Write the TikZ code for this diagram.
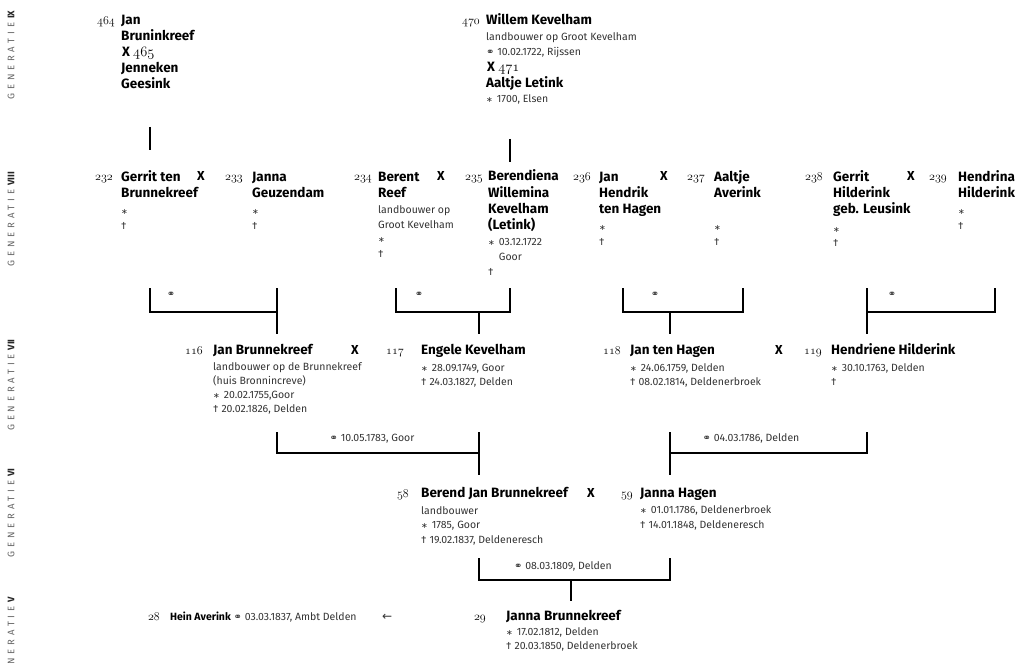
\documentclass[tikz,border=0pt]{standalone}
\usepackage{fontspec}
\setmainfont{Fira Sans}
\newfontfamily\symfont{DejaVu Sans}
\newfontfamily\genfont[LetterSpace=40]{Fira Sans}
\usetikzlibrary{positioning}
\newcommand\gnr[1]{{\fontencoding{OML}\fontfamily{cmm}\fontseries{m}\fontshape{it}\selectfont #1}}
\newcommand\born{{\symfont\fontsize{8}{8}\selectfont ∗}\hspace{4pt}}
\newcommand\died{†\hspace{3pt}}
\newcommand\wed{{\symfont\fontsize{10}{10}\selectfont ⚭}}
\begin{document}
\begin{tikzpicture}[x=1pt,y=-1pt,
    pname/.style={anchor=base west,inner sep=0,align=left,font=\fontsize{13.5}{16}\selectfont\bfseries},
    pinfo/.style={anchor=base west,inner sep=0,align=left,text=black!80,font=\fontsize{10.5}{14.5}\selectfont},
    genno/.style={anchor=base east,inner sep=0,font=\fontsize{13}{13}\selectfont},
    xmark/.style={anchor=base west,inner sep=0,font=\fontsize{13}{16}\selectfont\bfseries},
    genlabel/.style={rotate=90,inner sep=0,text=black!60,font=\genfont\fontsize{9.5}{10}\selectfont},
    famline/.style={line width=2pt}]
  \useasboundingbox (0,0) rectangle (1024,663);
  % generaties
  \foreach \gen/\py in {IX/55,VIII/219,VII/385,VI/513,V/640}{
    \node[genlabel] (g\gen) at (11,\py) {GENERATIE\hspace{4pt}{\normalfont\bfseries\color{black!85}\gen}};
  }
  % kwartiernummers
  \foreach \nr/\px/\py in {
      464/115/25,470/480/25,
      232/113/181,233/243/181,234/372/181,235/483/181,
      236/591/181,237/705/181,238/823/181,239/947/181,
      116/203/354,117/404/354,118/621/354,119/822/354,
      58/409/497,59/633/497,29/486/620,28/160/620}{
    \node[genno] (n\nr) at (\px,\py) {\gnr{\nr}};
  }
  \foreach \px/\py [count=\i] in {197/181,437/181,660/181,907/181,351/354,775/354,587/497}{
    \node[xmark] (x\i) at (\px,\py) {X};
  }
  % generatie IX (meerregelige nodes staan op de basislijn van de laatste regel)
  \node[pname] (p464) at (121,41) {Jan\\Bruninkreef};
  \node[pname] (x465) at (122,57) {X \gnr{465}};
  \node[pname] (p465) at (121,89) {Jenneken\\Geesink};
  \node[pname] (p470) at (486,25) {Willem Kevelham};
  \node[pinfo,font=\fontsize{10.5}{15.5}\selectfont] (d470) at (486,56)
    {landbouwer op Groot Kevelham\\\wed\ 10.02.1722, Rijssen};
  \node[pname] (x471) at (487,72) {X \gnr{471}};
  \node[pname] (p471) at (486,88) {Aaltje Letink};
  \node[pinfo] (d471) at (486,103) {\born 1700, Elsen};
  % generatie VIII
  \node[pname] (p232) at (121,197) {Gerrit ten\\Brunnekreef};
  \node[pinfo] (d232) at (121,229) {\born\\\died};
  \node[pname] (p233) at (252,197) {Janna\\Geuzendam};
  \node[pinfo] (d233) at (252,229) {\born\\\died};
  \node[pname] (p234) at (378,197) {Berent\\Reef};
  \node[pinfo] (d234) at (378,257) {landbouwer op\\Groot Kevelham\\\born\\\died};
  \node[pname] (p235) at (488,229) {Berendiena\\Willemina\\Kevelham\\(Letink)};
  \node[pinfo,font=\fontsize{10.5}{15}\selectfont] (d235) at (488,275.5)
    {\born 03.12.1722\\\phantom{\born}Goor\\\died};
  \node[pname] (p236) at (599,213) {Jan\\Hendrik\\ten Hagen};
  \node[pinfo] (d236) at (599,245) {\born\\\died};
  \node[pname] (p237) at (714,197) {Aaltje\\Averink};
  \node[pinfo] (d237) at (714,245) {\born\\\died};
  \node[pname] (p238) at (833,213) {Gerrit\\Hilderink\\geb. Leusink};
  \node[pinfo] (d238) at (833,246.5) {\born\\\died};
  \node[pname] (p239) at (958,197) {Hendrina\\Hilderink};
  \node[pinfo] (d239) at (958,229) {\born\\\died};
  % generatie VII
  \node[pname] (p116) at (213,354) {Jan Brunnekreef};
  \node[pinfo,font=\fontsize{10.5}{14}\selectfont] (d116) at (213,412.5)
    {landbouwer op de Brunnekreef\\(huis Bronnincreve)\\\born 20.02.1755,Goor\\\died 20.02.1826, Delden};
  \node[pname] (p117) at (421,354) {Engele Kevelham};
  \node[pinfo] (d117) at (421,385.5) {\born 28.09.1749, Goor\\\died 24.03.1827, Delden};
  \node[pname] (p118) at (630,354) {Jan ten Hagen};
  \node[pinfo] (d118) at (630,385.5) {\born 24.06.1759, Delden\\\died 08.02.1814, Deldenerbroek};
  \node[pname] (p119) at (831,354) {Hendriene Hilderink};
  \node[pinfo] (d119) at (831,385.5) {\born 30.10.1763, Delden\\\died};
  % generatie VI
  \node[pname] (p58) at (421,497) {Berend Jan Brunnekreef};
  \node[pinfo] (d58) at (421,543) {landbouwer\\\born 1785, Goor\\\died 19.02.1837, Deldeneresch};
  \node[pname] (p59) at (640,497) {Janna Hagen};
  \node[pinfo] (d59) at (640,528) {\born 01.01.1786, Deldenerbroek\\\died 14.01.1848, Deldeneresch};
  % generatie V
  \node[pname] (p29) at (506,620) {Janna Brunnekreef};
  \node[pinfo] (d29) at (506,649.5) {\born 17.02.1812, Delden\\\died 20.03.1850, Deldenerbroek};
  \node[pinfo] (p28) at (170,620)
    {{\bfseries\color{black}Hein Averink} \wed\ 03.03.1837, Ambt Delden};
  \node[pinfo,font=\symfont\fontsize{12}{12}\selectfont] (arr) at (382,620) {←};
  % huwelijken
  \foreach \fam/\px in {a/171,b/419,c/655,d/892}{
    \node[inner sep=0,text=black!80] (w\fam) at (\px,295) {\wed};
  }
  \node[pinfo,anchor=base] (we) at (372,441.5) {\wed\ 10.05.1783, Goor};
  \node[pinfo,anchor=base] (wf) at (751,441.5) {\wed\ 04.03.1786, Delden};
  \node[pinfo,anchor=base] (wg) at (563,569.5) {\wed\ 08.03.1809, Delden};
  % lijnen
  \coordinate (ix-a) at (150,127); \coordinate (ix-b) at (150,150);
  \coordinate (ix-c) at (510,139); \coordinate (ix-d) at (510,162);
  \draw[famline] (ix-a) -- (ix-b) (ix-c) -- (ix-d);
  \foreach \fam/\lx/\rx/\sx/\ty/\by/\ey in {
      a/150/277/277/288/312/334,b/396/510/479/288/312/334,
      c/623/743/670/288/312/334,d/867/995/867/288/312/334,
      e/277/479/479/432/453/475,f/670/867/670/432/453/475,
      g/479/670/571/558/580/601}{
    \coordinate (\fam-l) at (\lx,\ty);
    \coordinate (\fam-r) at (\rx,\ty);
    \coordinate (\fam-j) at (\sx,\by);
    \coordinate (\fam-s) at (\sx,\ey);
    \draw[famline] (\fam-l) |- (\fam-j) -| (\fam-r) (\fam-j) -- (\fam-s);
  }
\end{tikzpicture}
\end{document}
